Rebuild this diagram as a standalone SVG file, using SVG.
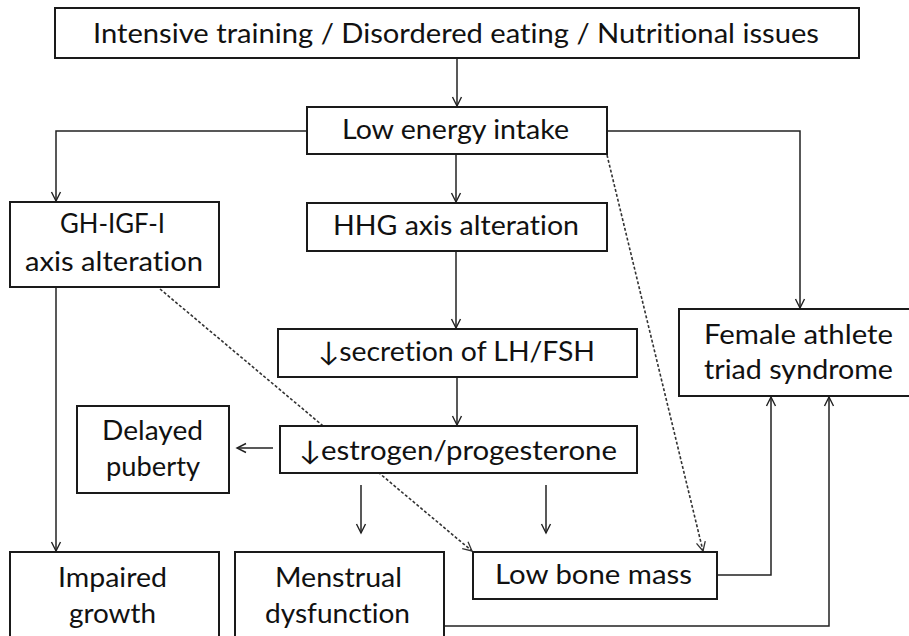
<svg xmlns="http://www.w3.org/2000/svg" width="909" height="636" viewBox="0 0 909 636">
<style>
.box{fill:#fff;stroke:#1a1a1a;stroke-width:2}
.t{font-family:Lato,"Open Sans","Liberation Sans",sans-serif;font-size:27px;fill:#111;text-anchor:middle;font-variant-ligatures:none;font-feature-settings:"liga" 0,"dlig" 0}
.c{fill:none;stroke:#222;stroke-width:1.5}
.d{fill:none;stroke:#333;stroke-width:1.6;stroke-dasharray:3 2}
</style>
<defs>
<marker id="arr" markerWidth="12" markerHeight="12" refX="10" refY="6" orient="auto" markerUnits="userSpaceOnUse">
<path d="M1,1.5 L10,6 L1,10.5" fill="none" stroke="#222" stroke-width="1.4"/>
</marker>
<marker id="arrd" markerWidth="12" markerHeight="12" refX="10" refY="6" orient="auto" markerUnits="userSpaceOnUse">
<path d="M1,1.5 L10,6 L1,10.5" fill="none" stroke="#333" stroke-width="1.3"/>
</marker>
</defs>
<rect width="909" height="636" fill="#fff"/>
<g id="connectors">
<path class="c" d="M457,58 V106" marker-end="url(#arr)"/>
<path class="c" d="M307,131 H56 V201" marker-end="url(#arr)"/>
<path class="c" d="M456,154 V202" marker-end="url(#arr)"/>
<path class="c" d="M607,131 H800 V308" marker-end="url(#arr)"/>
<path class="d" d="M607,155 L703,551" marker-end="url(#arrd)"/>
<path class="c" d="M456,251 V328" marker-end="url(#arr)"/>
<path class="c" d="M457,377 V425" marker-end="url(#arr)"/>
<path class="c" d="M273,448 H237" marker-end="url(#arr)"/>
<path class="c" d="M56,287 V551" marker-end="url(#arr)"/>
<path class="d" d="M160,289 L472,551" marker-end="url(#arrd)"/>
<path class="c" d="M361,485 V533" marker-end="url(#arr)"/>
<path class="c" d="M546,485 V533" marker-end="url(#arr)"/>
<path class="c" d="M717,575 H771 V397" marker-end="url(#arr)"/>
<path class="c" d="M444,626 H829 V397" marker-end="url(#arr)"/>
</g>
<g id="n-top"><rect class="box" x="55" y="8" width="804" height="50"/>
<text class="t" x="456" y="43" textLength="726" lengthAdjust="spacingAndGlyphs">Intensive training / Disordered eating / Nutritional issues</text></g>
<g id="n-low-energy"><rect class="box" x="307" y="107" width="300" height="47"/>
<text class="t" x="455.5" y="139" textLength="227" lengthAdjust="spacingAndGlyphs">Low energy intake</text></g>
<g id="n-gh"><rect class="box" x="10" y="202" width="209" height="85"/>
<text class="t" x="112.5" y="233" textLength="105" lengthAdjust="spacingAndGlyphs">GH-IGF-I</text>
<text class="t" x="114" y="271" textLength="178" lengthAdjust="spacingAndGlyphs">axis alteration</text></g>
<g id="n-hhg"><rect class="box" x="307" y="203" width="300" height="48"/>
<text class="t" x="456" y="235" textLength="246" lengthAdjust="spacingAndGlyphs">HHG axis alteration</text></g>
<g id="n-secretion"><rect class="box" x="278" y="329" width="359" height="48"/>
<text class="t" x="456.5" y="361" textLength="277" lengthAdjust="spacingAndGlyphs">↓secretion of LH/FSH</text></g>
<g id="n-female"><rect class="box" x="679" y="309" width="241" height="87"/>
<text class="t" x="798.5" y="344" textLength="189" lengthAdjust="spacingAndGlyphs">Female athlete</text>
<text class="t" x="798.5" y="379" textLength="189" lengthAdjust="spacingAndGlyphs">triad syndrome</text></g>
<g id="n-delayed"><rect class="box" x="77" y="406" width="152" height="87"/>
<text class="t" x="152.5" y="440" textLength="101" lengthAdjust="spacingAndGlyphs">Delayed</text>
<text class="t" x="153" y="476" textLength="94" lengthAdjust="spacingAndGlyphs">puberty</text></g>
<g id="n-estrogen"><rect class="box" x="280" y="426" width="357" height="47"/>
<text class="t" x="458" y="460" textLength="318" lengthAdjust="spacingAndGlyphs">↓estrogen/progesterone</text></g>
<g id="n-impaired"><rect class="box" x="10" y="552" width="209" height="110"/>
<text class="t" x="112.5" y="587" textLength="109" lengthAdjust="spacingAndGlyphs">Impaired</text>
<text class="t" x="112.5" y="623" textLength="87" lengthAdjust="spacingAndGlyphs">growth</text></g>
<g id="n-menstrual"><rect class="box" x="235" y="552" width="209" height="110"/>
<text class="t" x="338.5" y="587" textLength="127" lengthAdjust="spacingAndGlyphs">Menstrual</text>
<text class="t" x="337.5" y="623" textLength="145" lengthAdjust="spacingAndGlyphs">dysfunction</text></g>
<g id="n-bone"><rect class="box" x="473" y="552" width="244" height="47"/>
<text class="t" x="593.5" y="584" textLength="197" lengthAdjust="spacingAndGlyphs">Low bone mass</text></g>
</svg>
